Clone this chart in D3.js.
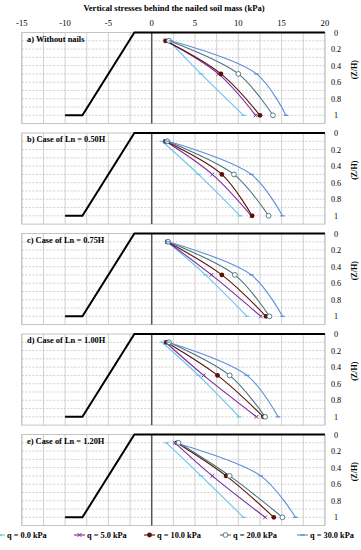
<!DOCTYPE html>
<html>
<head>
<meta charset="utf-8">
<script src="https://cdn.jsdelivr.net/npm/d3@7"></script>
<style>
  body { margin: 0; background: #fff; }
  svg { display: block; font-family: "Liberation Serif", "DejaVu Serif", serif; }
</style>
</head>
<body>
<svg width="361" height="550"></svg>
<script>
// depth ratio Z/H where the stresses were read
const depths = [0.1, 0.5, 1.0];
const caseLabels = ["a) Without nails", "b) Case of Ln = 0.50H", "c) Case of Ln = 0.75H",
                    "d) Case of Ln = 1.00H", "e) Case of Ln = 1.20H"];
const xTicks = [-15, -10, -5, 0, 5, 10, 15, 20];
const zTicks = [0, 0.2, 0.4, 0.6, 0.8, 1];

// vertical stress (kPa) per panel, at depths 0.1 / 0.5 / 1.0
const q0  = [[2.0, 5.7, 10.6], [1.2, 5.4, 10.2], [1.8, 6.2, 11.0], [1.2, 5.4, 10.1], [1.7, 5.7, 10.6]];
const q5  = [[1.6, 7.7, 12.0], [1.6, 7.0, 11.5], [1.8, 6.9, 12.6], [1.6, 6.0, 12.1], [2.7, 7.0, 13.1]];
const q10 = [[1.6, 8.0, 12.5], [1.6, 8.1, 11.6], [1.8, 8.1, 13.2], [1.7, 7.6, 12.9], [2.9, 8.6, 14.1]];
const q20 = [[2.0, 10.0, 14.0], [1.8, 9.5, 13.5], [1.9, 9.6, 13.6], [2.0, 9.0, 13.1], [3.1, 9.0, 15.1]];
const q30 = [[2.2, 12.1, 15.5], [1.9, 11.5, 15.1], [1.9, 11.5, 15.1], [1.9, 11.0, 14.6], [2.7, 12.6, 16.6]];

// wall outline (x in kPa axis units, z in Z/H)
const wallX = [-10, -8, -2, 20];
const wallZ = [1, 1, 0, 0];

const series = [
  {name: "q = 0.0 kPa",  vals: q0,  color: "#6cc4ec", marker: "dash"},
  {name: "q = 5.0 kPa",  vals: q5,  color: "#7a2d9c", marker: "cross"},
  {name: "q = 10.0 kPa", vals: q10, color: "#5a1208", marker: "dot"},
  {name: "q = 20.0 kPa", vals: q20, color: "#48737c", marker: "ring"},
  {name: "q = 30.0 kPa", vals: q30, color: "#5d8ed8", marker: "dash"}
];

const svg = d3.select("svg");

let x = d3.scaleLinear().domain([-15, 20]).range([21.8, 324.9]);
let panelH = 91.1, panelStep = 100.5, firstTop = 32.5;

// title + top axis
svg.append("text")
  .attr("x", 174).attr("y", 10.5)
  .attr("text-anchor", "middle")
  .attr("font-size", 8.6).attr("font-weight", "bold")
  .text("Vertical stresses behind the nailed soil mass (kPa)");

svg.selectAll(".xtick")
  .data(xTicks)
  .enter().append("text")
  .attr("class", "xtick")
  .attr("x", d => x(d))
  .attr("y", 26)
  .attr("text-anchor", "middle")
  .attr("font-size", 8.6)
  .text(d => d);

function drawMarker(g, type, cx, cy, color) {
  if (type == "dot") {
    g.append("circle").attr("cx", cx).attr("cy", cy).attr("r", 2.4).attr("fill", color);
  } else if (type == "ring") {
    g.append("circle").attr("cx", cx).attr("cy", cy).attr("r", 2.4)
      .attr("fill", "#fff").attr("stroke", color).attr("stroke-width", 0.9);
  } else if (type == "cross") {
    g.append("path").attr("d", `M${cx-1.9},${cy-1.9}L${cx+1.9},${cy+1.9}M${cx-1.9},${cy+1.9}L${cx+1.9},${cy-1.9}`)
      .attr("stroke", color).attr("stroke-width", 1);
  } else {
    g.append("path").attr("d", `M${cx-2.2},${cy}L${cx+2.2},${cy}`)
      .attr("stroke", color).attr("stroke-width", 1.3);
  }
}

caseLabels.forEach((label, i) => {
  let top = firstTop + i * panelStep;
  let y = d3.scaleLinear().domain([0, 1.1]).range([top, top + panelH]);
  let g = svg.append("g");

  // grid
  g.selectAll(".vgrid")
    .data(d3.range(-15, 20.1, 2.5))
    .enter().append("line")
    .attr("x1", d => x(d)).attr("x2", d => x(d))
    .attr("y1", y(0)).attr("y2", y(1.1))
    .attr("stroke", "#c4c4c4").attr("stroke-width", 0.8);
  g.selectAll(".hgrid")
    .data(d3.range(1, 11).map(k => k / 10))
    .enter().append("line")
    .attr("x1", x(-15)).attr("x2", x(20))
    .attr("y1", d => y(d)).attr("y2", d => y(d))
    .attr("stroke", "#c4c4c4").attr("stroke-width", 0.8)
    .attr("stroke-dasharray", "2,1.5");
  g.append("rect")
    .attr("x", x(-15)).attr("y", y(0))
    .attr("width", x(20) - x(-15)).attr("height", y(1.1) - y(0))
    .attr("fill", "none").attr("stroke", "#bdbdbd").attr("stroke-width", 0.9);

  // zero line
  g.append("line")
    .attr("x1", x(0)).attr("x2", x(0))
    .attr("y1", y(0)).attr("y2", y(1.1))
    .attr("stroke", "#555").attr("stroke-width", 1.5);

  // wall
  g.append("path")
    .attr("d", d3.line().x(d => x(d[0])).y(d => y(d[1]))(wallX.map((v, k) => [v, wallZ[k]])))
    .attr("fill", "none").attr("stroke", "#000").attr("stroke-width", 2);

  // right axis
  g.selectAll(".ztick")
    .data(zTicks)
    .enter().append("text")
    .attr("x", 336)
    .attr("y", d => y(d) + 3)
    .attr("text-anchor", "middle")
    .attr("font-size", 8.2)
    .text(d => d);
  g.append("text")
    .attr("transform", `translate(357,${y(0.45)}) rotate(-90)`)
    .attr("text-anchor", "middle")
    .attr("font-size", 8)
    .attr("font-weight", "bold")
    .text("(Z/H)");

  // panel label
  g.append("text")
    .attr("x", 27).attr("y", top + 9.2)
    .attr("font-size", 8.4).attr("font-weight", "bold")
    .text(label);

  // stress curves
  series.forEach(s => {
    let pts = s.vals[i].map((v, k) => [x(v), y(depths[k])]);
    g.append("path")
      .attr("d", d3.line().curve(d3.curveCatmullRom.alpha(0.5))(pts))
      .attr("fill", "none")
      .attr("stroke", s.color)
      .attr("stroke-width", 1.1);
  });
  series.forEach(s => {
    s.vals[i].forEach((v, k) => drawMarker(g, s.marker, x(v), y(depths[k]), s.color));
  });
});

// legend
let legendTextX = [7, 87, 157, 233, 310];
let legend = svg.append("g");
series.forEach((s, k) => {
  let tx = legendTextX[k], ly = 538;
  legend.append("line")
    .attr("x1", Math.max(0, tx - 13)).attr("x2", tx - 2)
    .attr("y1", ly - 3).attr("y2", ly - 3)
    .attr("stroke", s.color).attr("stroke-width", 1.1);
  drawMarker(legend, s.marker, tx - 7.5, ly - 3, s.color);
  legend.append("text")
    .attr("x", tx).attr("y", ly)
    .attr("font-size", 8.3).attr("font-weight", "bold")
    .text(s.name);
});
</script>
</body>
</html>
